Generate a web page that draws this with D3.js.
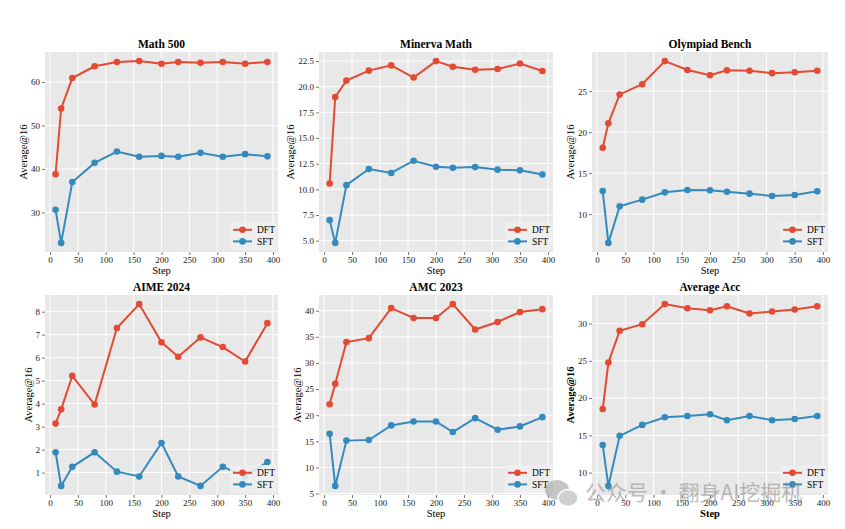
<!DOCTYPE html>
<html>
<head>
<meta charset="utf-8">
<script src="https://cdn.jsdelivr.net/npm/d3@7"></script>
<style>
  body { margin: 0; background: #fff; }
  svg { display: block; }
</style>
</head>
<body>
<div id="chart"></div>
<script>
const steps = [10, 20, 40, 80, 120, 160, 200, 230, 270, 310, 350, 390];
const seriesNames = ["DFT", "SFT"];
const panelTitles = ["Math 500", "Minerva Math", "Olympiad Bench", "AIME 2024", "AMC 2023", "Average Acc"];

const math500Dft = [38.8, 53.9, 60.9, 63.6, 64.6, 64.8, 64.2, 64.6, 64.4, 64.6, 64.2, 64.6];
const math500Sft = [30.6, 23.0, 37.0, 41.4, 44.0, 42.8, 43.0, 42.8, 43.7, 42.8, 43.4, 42.9];
const minervaDft = [10.57, 19.0, 20.6, 21.57, 22.08, 20.9, 22.5, 21.95, 21.66, 21.73, 22.27, 21.54];
const minervaSft = [7.0, 4.78, 10.41, 11.98, 11.6, 12.79, 12.2, 12.1, 12.17, 11.92, 11.85, 11.44];
const olympiadDft = [18.1, 21.09, 24.6, 25.85, 28.67, 27.58, 26.94, 27.54, 27.5, 27.2, 27.3, 27.5];
const olympiadSft = [12.82, 6.49, 10.97, 11.77, 12.66, 12.94, 12.9, 12.74, 12.5, 12.22, 12.34, 12.78];
const aimeDft = [3.13, 3.75, 5.21, 3.96, 7.29, 8.33, 6.67, 6.04, 6.88, 6.46, 5.83, 7.5];
const aimeSft = [1.88, 0.42, 1.25, 1.88, 1.04, 0.83, 2.29, 0.83, 0.42, 1.25, 0.83, 1.46];
const amcDft = [22.1, 26.0, 34.0, 34.75, 40.5, 38.6, 38.6, 41.27, 36.4, 37.85, 39.75, 40.3];
const amcSft = [16.46, 6.46, 15.13, 15.25, 18.04, 18.8, 18.8, 16.77, 19.43, 17.22, 17.85, 19.62];
const avgDft = [18.53, 24.76, 29.02, 29.9, 32.6, 32.04, 31.78, 32.3, 31.33, 31.6, 31.87, 32.3];
const avgSft = [13.69, 8.22, 14.93, 16.4, 17.42, 17.6, 17.82, 17.02, 17.6, 17.02, 17.2, 17.6];

const xTicks = [0, 50, 100, 150, 200, 250, 300, 350, 400];
const math500Ticks = [30, 40, 50, 60];
const minervaTicks = [5.0, 7.5, 10.0, 12.5, 15.0, 17.5, 20.0, 22.5];
const olympiadTicks = [10, 15, 20, 25];
const aimeTicks = [1, 2, 3, 4, 5, 6, 7, 8];
const amcTicks = [5, 10, 15, 20, 25, 30, 35, 40];
const avgTicks = [10, 15, 20, 25, 30];

const panels = [
  { dft: math500Dft, sft: math500Sft, ticks: math500Ticks, fmt: d3.format("d") },
  { dft: minervaDft, sft: minervaSft, ticks: minervaTicks, fmt: d3.format(".1f") },
  { dft: olympiadDft, sft: olympiadSft, ticks: olympiadTicks, fmt: d3.format("d") },
  { dft: aimeDft, sft: aimeSft, ticks: aimeTicks, fmt: d3.format("d") },
  { dft: amcDft, sft: amcSft, ticks: amcTicks, fmt: d3.format("d") },
  { dft: avgDft, sft: avgSft, ticks: avgTicks, fmt: d3.format("d") }
];

const width = 845, height = 529;
const colors = { DFT: "#E24A33", SFT: "#348ABD" };
const font = "'Liberation Serif', 'DejaVu Serif', serif";

const colLeft = [45, 319, 592];
const colWidth = [233, 234, 236];
const rowTop = [52, 295];
const plotH = 200;

const svg = d3.select("#chart").append("svg")
  .attr("width", width)
  .attr("height", height);

panels.forEach((p, i) => {
  const col = i % 3, row = Math.floor(i / 3);
  const w = colWidth[col];
  const g = svg.append("g")
    .attr("transform", `translate(${colLeft[col]},${rowTop[row]})`);

  // matplotlib style 5% margins
  const xExt = d3.extent(steps);
  const xPad = (xExt[1] - xExt[0]) * 0.05;
  const x = d3.scaleLinear().domain([xExt[0] - xPad, xExt[1] + xPad]).range([0, w]);

  const yExt = d3.extent(p.dft.concat(p.sft));
  const yPad = (yExt[1] - yExt[0]) * 0.05;
  const y = d3.scaleLinear().domain([yExt[0] - yPad, yExt[1] + yPad]).range([plotH, 0]);

  g.append("rect")
    .attr("width", w)
    .attr("height", plotH)
    .attr("fill", "#E8E8E8");

  g.selectAll(".gx").data(xTicks).join("line")
    .attr("x1", d => x(d)).attr("x2", d => x(d))
    .attr("y1", 0).attr("y2", plotH)
    .attr("stroke", "#fff").attr("stroke-width", 1);
  g.selectAll(".gy").data(p.ticks).join("line")
    .attr("x1", 0).attr("x2", w)
    .attr("y1", d => y(d)).attr("y2", d => y(d))
    .attr("stroke", "#fff").attr("stroke-width", 1);

  const xAxis = g.append("g")
    .attr("transform", `translate(0,${plotH})`)
    .call(d3.axisBottom(x).tickValues(xTicks).tickSize(3).tickPadding(2));
  const yAxis = g.append("g")
    .call(d3.axisLeft(y).tickValues(p.ticks).tickFormat(p.fmt).tickSize(3).tickPadding(2));

  [xAxis, yAxis].forEach(a => {
    a.select(".domain").remove();
    a.selectAll("line").attr("stroke", "#555").attr("stroke-width", 0.8);
    a.selectAll("text")
      .attr("fill", "#222")
      .style("font-family", font)
      .style("font-size", "9px");
  });

  const bold = i === 5 ? "bold" : "normal";

  g.append("text")
    .attr("x", w / 2)
    .attr("y", -4)
    .attr("text-anchor", "middle")
    .style("font-family", font)
    .style("font-size", "11.5px")
    .style("font-weight", "bold")
    .text(panelTitles[i]);

  g.append("text")
    .attr("x", w / 2)
    .attr("y", plotH + 22)
    .attr("text-anchor", "middle")
    .style("font-family", font)
    .style("font-size", "10.5px")
    .style("font-weight", bold)
    .text("Step");

  const bb = yAxis.node().getBBox();
  g.append("text")
    .attr("transform", `translate(${bb.x - 4},${plotH / 2}) rotate(-90)`)
    .attr("text-anchor", "middle")
    .style("font-family", font)
    .style("font-size", "10.5px")
    .style("font-weight", bold)
    .text("Average@16");

  const line = d3.line()
    .x((d, k) => x(steps[k]))
    .y(d => y(d));

  [["DFT", p.dft], ["SFT", p.sft]].forEach(([name, vals]) => {
    g.append("path")
      .datum(vals)
      .attr("d", line)
      .attr("fill", "none")
      .attr("stroke", colors[name])
      .attr("stroke-width", 2);
    g.selectAll(".pt-" + name).data(vals).join("circle")
      .attr("cx", (d, k) => x(steps[k]))
      .attr("cy", d => y(d))
      .attr("r", 3.3)
      .attr("fill", colors[name]);
  });

  // legend, lower right
  const lg = g.append("g").attr("transform", `translate(${w - 48},${plotH - 30})`);
  lg.append("rect")
    .attr("width", 47).attr("height", 28)
    .attr("fill", "#EEEEEE").attr("opacity", 0.85);
  seriesNames.forEach((name, k) => {
    const ly = 7.8 + k * 11.6;
    lg.append("line")
      .attr("x1", 3).attr("x2", 22)
      .attr("y1", ly).attr("y2", ly)
      .attr("stroke", colors[name]).attr("stroke-width", 2);
    lg.append("circle")
      .attr("cx", 12.5).attr("cy", ly).attr("r", 3.3)
      .attr("fill", colors[name]);
    lg.append("text")
      .attr("x", 27).attr("y", ly + 3.3)
      .style("font-family", font)
      .style("font-size", "9.5px")
      .text(name);
  });
});

// watermark
const wm = svg.append("g").attr("opacity", 0.55);
wm.append("ellipse").attr("cx", 557).attr("cy", 490).attr("rx", 12).attr("ry", 10).attr("fill", "#999");
wm.append("ellipse").attr("cx", 568).attr("cy", 498).attr("rx", 10).attr("ry", 8.5).attr("fill", "#aaa").attr("stroke", "#fff").attr("stroke-width", 1.5);
wm.append("text")
  .attr("x", 585).attr("y", 500)
  .style("font-family", "'Noto Sans CJK SC', sans-serif")
  .style("font-size", "21px")
  .attr("fill", "#888")
  .text("公众号 · 翻身AI挖掘机");
</script>
</body>
</html>
